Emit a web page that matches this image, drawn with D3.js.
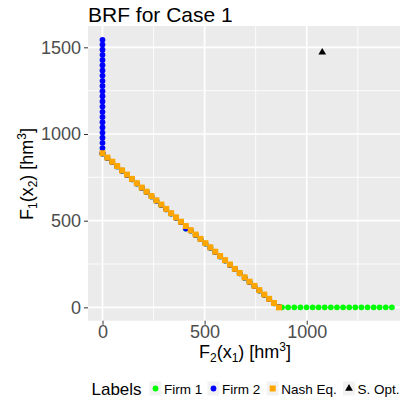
<!DOCTYPE html>
<html>
<head>
<meta charset="utf-8">
<script src="https://d3js.org/d3.v7.min.js"></script>
<style>
  body { margin: 0; background: #fff; }
  svg { font-family: "Liberation Sans", Arial, sans-serif; }
</style>
</head>
<body>
<div class="chart"></div>
<script>
// nash equilibria along the diagonal
const nashX = [0, 24, 48, 72, 96, 120, 144, 168, 192, 216, 240, 264, 288, 312, 336, 360, 384, 408, 432,
  456, 480, 504, 528, 552, 576, 600, 624, 648, 672, 696, 720, 744, 768, 792, 816, 840, 864];
const nashY = [889, 864, 840, 815, 790, 766, 741, 716, 691, 667, 642, 617, 593, 568, 543, 519, 494, 469, 445,
  420, 395, 370, 346, 321, 296, 272, 247, 222, 198, 173, 148, 124, 99, 74, 49, 25, 0];

// firm responses mostly hidden under the squares
const diagY = [887, 862, 838, 813, 788, 764, 739, 714, 689, 665, 640, 615, 591, 566, 541, 517, 492, 455, 443,
  418, 393, 368, 344, 319, 294, 270, 245, 220, 196, 171, 146, 122, 97, 72, 47, 23, 2];

// firm 1: flat part on F1 = 0
const firm1FlatX = [879, 909, 939, 969, 999, 1029, 1058, 1088, 1118, 1148, 1178, 1208, 1238, 1268, 1298,
  1328, 1357, 1387, 1417];
// firm 2: vertical part on F2 = 0
const firm2VertY = [889, 919, 949, 979, 1008, 1038, 1068, 1098, 1128, 1158, 1188, 1218, 1247, 1277, 1307,
  1337, 1367, 1397, 1427, 1457, 1486, 1516, 1543];

const soptX = [1076];
const soptY = [1471];

const xMajor = [0, 500, 1000];
const xMinor = [250, 750, 1250];
const yMajor = [0, 500, 1000, 1500];
const yMinor = [250, 750, 1250];

const legendLabels = ["Firm 1", "Firm 2", "Nash Eq.", "S. Opt."];
const colors = { f1: "#00FF00", f2: "#0000FF", nash: "#FFA500", sopt: "#000000" };

const W = 400, H = 402;
const svg = d3.select(".chart").append("svg").attr("width", W).attr("height", H);

const panel = { left: 88, right: 407, top: 26, bottom: 320.7 };
const x = d3.scaleLinear().domain([-71, 1491]).range([panel.left, panel.right]);
const y = d3.scaleLinear().domain([-77, 1623]).range([panel.bottom, panel.top]);

// panel background
svg.append("rect")
  .attr("x", panel.left).attr("y", panel.top)
  .attr("width", panel.right - panel.left).attr("height", panel.bottom - panel.top)
  .attr("fill", "#EBEBEB");

const grid = svg.append("g").attr("stroke", "#fff");
grid.selectAll(".xminor").data(xMinor).enter().append("line")
  .attr("x1", d => x(d)).attr("x2", d => x(d))
  .attr("y1", panel.top).attr("y2", panel.bottom).attr("stroke-width", 0.85);
grid.selectAll(".yminor").data(yMinor).enter().append("line")
  .attr("y1", d => y(d)).attr("y2", d => y(d))
  .attr("x1", panel.left).attr("x2", panel.right).attr("stroke-width", 0.85);
grid.selectAll(".xmajor").data(xMajor).enter().append("line")
  .attr("x1", d => x(d)).attr("x2", d => x(d))
  .attr("y1", panel.top).attr("y2", panel.bottom).attr("stroke-width", 1.7);
grid.selectAll(".ymajor").data(yMajor).enter().append("line")
  .attr("y1", d => y(d)).attr("y2", d => y(d))
  .attr("x1", panel.left).attr("x2", panel.right).attr("stroke-width", 1.7);

// axes
const xAxis = svg.append("g")
  .attr("transform", `translate(0,${panel.bottom})`)
  .call(d3.axisBottom(x).tickValues(xMajor).tickSize(4).tickPadding(1).tickFormat(d3.format("d")));
const yAxis = svg.append("g")
  .attr("transform", `translate(${panel.left},0)`)
  .call(d3.axisLeft(y).tickValues(yMajor).tickSize(4).tickPadding(3).tickFormat(d3.format("d")));
[xAxis, yAxis].forEach(a => {
  a.select(".domain").remove();
  a.selectAll(".tick line").attr("stroke", "#333").attr("stroke-width", 1);
  a.selectAll(".tick text").attr("fill", "#4D4D4D").style("font-size", "18px")
    .style("font-family", "Liberation Sans, Arial, sans-serif");
});

// points
const plot = svg.append("g");
const circle = (cx, cy, col) => plot.append("circle").attr("cx", cx).attr("cy", cy).attr("r", 2.9).attr("fill", col);

firm1FlatX.forEach(v => circle(x(v), y(0), colors.f1));
nashX.forEach((v, i) => circle(x(v), y(diagY[i]), colors.f1));
firm2VertY.forEach(v => circle(x(0), y(v), colors.f2));
nashX.forEach((v, i) => circle(x(v), y(diagY[i]), colors.f2));

plot.selectAll(".nash").data(nashX).enter().append("rect")
  .attr("x", d => x(d) - 3).attr("y", (d, i) => y(nashY[i]) - 3)
  .attr("width", 6).attr("height", 6).attr("fill", colors.nash);

const tri = d3.symbol().type(d3.symbolTriangle).size(26);
plot.selectAll(".sopt").data(soptX).enter().append("path")
  .attr("d", tri)
  .attr("transform", (d, i) => `translate(${x(d)},${y(soptY[i])})`)
  .attr("fill", colors.sopt);

// title
svg.append("text").attr("x", 88).attr("y", 22).style("font-size", "21px").attr("fill", "#000")
  .text("BRF for Case 1");

// axis titles
const xt = svg.append("text").attr("x", 245).attr("y", 358).attr("text-anchor", "middle")
  .style("font-size", "18px").attr("fill", "#000");
xt.append("tspan").text("F");
xt.append("tspan").attr("dy", 4).style("font-size", "12px").text("2");
xt.append("tspan").attr("dy", -4).text("(x");
xt.append("tspan").attr("dy", 4).style("font-size", "12px").text("1");
xt.append("tspan").attr("dy", -4).text(") [hm");
xt.append("tspan").attr("dy", -7).style("font-size", "12px").text("3");
xt.append("tspan").attr("dy", 7).text("]");

const yt = svg.append("text").attr("transform", "translate(33,174) rotate(-90)").attr("text-anchor", "middle")
  .style("font-size", "18px").attr("fill", "#000");
yt.append("tspan").text("F");
yt.append("tspan").attr("dy", 4).style("font-size", "12px").text("1");
yt.append("tspan").attr("dy", -4).text("(x");
yt.append("tspan").attr("dy", 4).style("font-size", "12px").text("2");
yt.append("tspan").attr("dy", -4).text(") [hm");
yt.append("tspan").attr("dy", -7).style("font-size", "12px").text("3");
yt.append("tspan").attr("dy", 7).text("]");

// legend
const legY = 388.5;
svg.append("text").attr("x", 91.5).attr("y", 395).style("font-size", "17px").attr("fill", "#000").text("Labels");
const keyX = [155.5, 213.5, 272.7, 349];
const legKeys = svg.append("g");
keyX.forEach((kx, i) => {
  legKeys.append("rect").attr("x", kx - 6).attr("y", legY - 7).attr("width", 12).attr("height", 14).attr("fill", "#F2F2F2");
  if (i === 0) legKeys.append("circle").attr("cx", kx).attr("cy", legY).attr("r", 2.9).attr("fill", colors.f1);
  if (i === 1) legKeys.append("circle").attr("cx", kx).attr("cy", legY).attr("r", 2.9).attr("fill", colors.f2);
  if (i === 2) legKeys.append("rect").attr("x", kx - 3).attr("y", legY - 3).attr("width", 6).attr("height", 6).attr("fill", colors.nash);
  if (i === 3) legKeys.append("path").attr("d", tri).attr("transform", `translate(${kx},${legY})`).attr("fill", colors.sopt);
  legKeys.append("text").attr("x", kx + 8.5).attr("y", 393.5).style("font-size", "13.5px").attr("fill", "#000")
    .text(legendLabels[i]);
});
</script>
</body>
</html>
